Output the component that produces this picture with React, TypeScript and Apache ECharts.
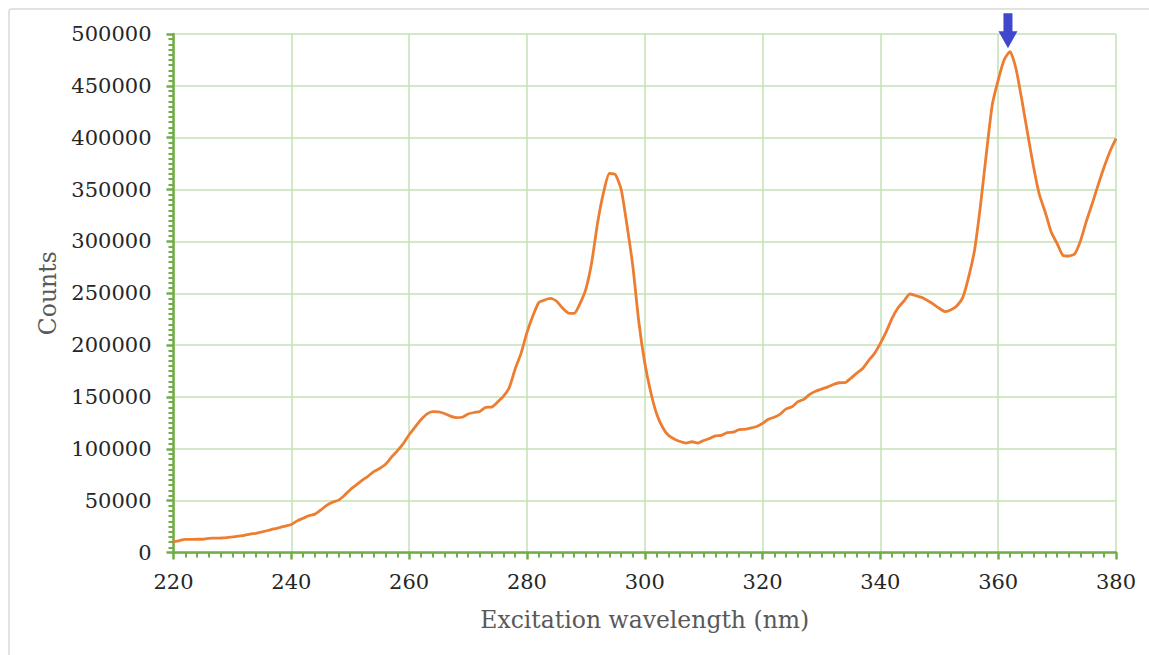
import React, { useEffect, useRef } from "react";
import * as echarts from "echarts";

const wavelengths: number[] = Array.from({ length: 161 }, (_, i) => 220 + i);
const counts: number[] = [
  10500, 11500, 12700, 12700, 12800, 12800, 13700, 13800, 14000, 14300,
  15000, 15800, 16500, 17800, 18500, 19800, 21200, 22700, 24000, 25500,
  27000, 30500, 33000, 35500, 37000, 41000, 45500, 48500, 50500, 55000,
  60500, 65000, 69500, 73500, 78000, 81000, 85000, 92000, 98000, 105000,
  113500, 121000, 128000, 133500, 135800, 135500, 134000, 131500, 130000, 130400,
  133500, 135000, 136000, 140000, 140200, 145000, 150500, 159000, 177000, 192000,
  212000, 228000, 241000, 243500, 245000, 242500, 236000, 231000, 230500, 240000,
  254000, 280000, 318000, 347000, 365500, 364500, 350000, 315000, 275000, 222000,
  183000, 155000, 134000, 121000, 113000, 109500, 107000, 105500, 106800, 105500,
  108000, 110000, 112500, 113000, 115500, 116000, 118500, 118800, 120000, 121500,
  124500, 128500, 130500, 133500, 138500, 140500, 145500, 147700, 152500, 155500,
  157500, 159500, 162000, 163700, 163800, 168000, 173000, 177500, 185000, 192000,
  201700, 213000, 226000, 236000, 242500, 249300, 247800, 246000, 243000, 239500,
  235500, 232200, 234000, 238000, 246000, 266000, 292000, 335000, 385000, 432000,
  455600, 475000, 483000, 467000, 437000, 404000, 372000, 345000, 328000, 309000,
  298000, 286500, 285900, 288000, 301000, 320000, 337000, 355000, 372000, 387000,
  399000,
];
const peakWavelength = 362;
const peakCount = 483000;

const xTitle = "Excitation wavelength (nm)";
const yTitle = "Counts";

const FONT = "DejaVu Serif";

export default function App() {
  const ref = useRef<HTMLDivElement>(null);
  useEffect(() => {
    if (!ref.current) return;
    const chart = echarts.init(ref.current, null, { renderer: "svg" });
    const data = wavelengths.map((w, i) => [w, counts[i]]);
    chart.setOption({
      animation: false,
      backgroundColor: "#ffffff",
      graphic: [
        {
          type: "rect",
          shape: { x: 9, y: 9, width: 1200, height: 700, r: 3 },
          style: { fill: "none", stroke: "#D9D9D9", lineWidth: 1.5 },
          silent: true,
          z: -10,
        },
      ],
      grid: { left: 173.5, right: 33, top: 34, bottom: 102.5, containLabel: false },
      xAxis: {
        type: "value",
        min: 220,
        max: 380,
        interval: 20,
        name: xTitle,
        nameLocation: "middle",
        nameGap: 55,
        nameTextStyle: { fontFamily: FONT, fontSize: 23.5, color: "#595959" },
        axisLine: { show: true, onZero: false, lineStyle: { color: "#70AD47", width: 2.5 } },
        axisTick: { show: true, length: 7, lineStyle: { color: "#70AD47", width: 2.5 } },
        minorTick: { show: true, splitNumber: 10, length: 5, lineStyle: { color: "#70AD47", width: 2 } },
        axisLabel: { fontFamily: FONT, fontSize: 21, color: "#262626", margin: 19, formatter: (v: number) => String(v) },
        splitLine: { show: true, lineStyle: { color: "#C5E0B4", width: 1.5 } },
      },
      yAxis: {
        type: "value",
        min: 0,
        max: 500000,
        interval: 50000,
        name: yTitle,
        nameLocation: "middle",
        nameGap: 104,
        nameTextStyle: { fontFamily: FONT, fontSize: 23.5, color: "#595959" },
        axisLine: { show: true, lineStyle: { color: "#70AD47", width: 2.5 } },
        axisTick: { show: true, length: 7, lineStyle: { color: "#70AD47", width: 2.5 } },
        minorTick: { show: true, splitNumber: 10, length: 5, lineStyle: { color: "#70AD47", width: 2 } },
        axisLabel: { fontFamily: FONT, fontSize: 21, color: "#262626", margin: 22, formatter: (v: number) => String(v) },
        splitLine: { show: true, lineStyle: { color: "#C5E0B4", width: 1.5 } },
      },
      series: [
        {
          type: "line",
          data,
          showSymbol: false,
          smooth: 0.2,
          lineStyle: { color: "#ED7D31", width: 2.8 },
          itemStyle: { color: "#ED7D31" },
          markPoint: {
            silent: true,
            symbol: "path://M5,0 L14,0 L14,18 L19,18 L9.5,35 L0,18 L5,18 Z",
            symbolSize: [19, 35],
            symbolOffset: [-2, -21],
            itemStyle: { color: "#3F48CC" },
            label: { show: false },
            data: [{ coord: [peakWavelength, peakCount] }],
          },
        },
      ],
    });
    return () => chart.dispose();
  }, []);
  return (
    <div
      ref={ref}
      style={{ position: "fixed", left: 0, top: 0, width: 1149, height: 655 }}
    />
  );
}
